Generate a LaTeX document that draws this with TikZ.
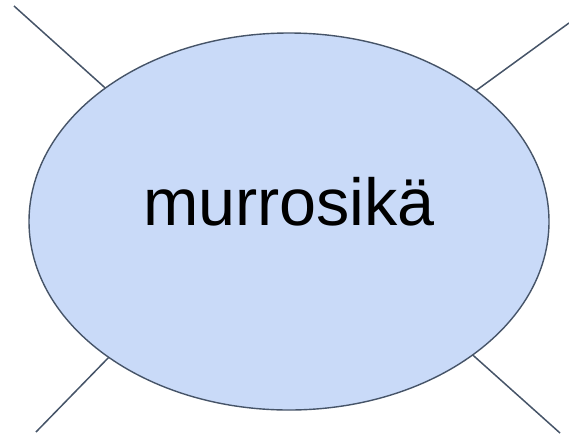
\documentclass[tikz,border=0pt]{standalone}
\usepackage{fontspec}
\setmainfont{Liberation Sans}
\usetikzlibrary{shapes.geometric}
\definecolor{efill}{HTML}{C9DAF8}
\definecolor{estroke}{HTML}{465468}
\tikzset{
  bubble/.style={ellipse, draw=estroke, fill=efill, line width=1.4pt, minimum width=520pt, minimum height=377pt, inner sep=0pt, outer sep=0pt, text height=47.5pt, text depth=40.5pt, font=\fontsize{66.5}{80}\selectfont},
  spoke/.style={draw=estroke, line width=1.5pt}
}
\begin{document}
\begin{tikzpicture}[x=1pt,y=-1pt]
\useasboundingbox (0,0) rectangle (569,434);
\coordinate (tl) at (14,6);
\coordinate (tr) at (569,23);
\coordinate (bl) at (36,432);
\coordinate (br) at (560,433);
\node[bubble] (e) at (289,221.5) {murrosikä};
\draw[spoke] (tl) -- (e.144.2);
\draw[spoke] (tr) -- (e.35.8);
\draw[spoke] (bl) -- (e.-143.6);
\draw[spoke] (br) -- (e.-36.2);
\end{tikzpicture}
\end{document}
